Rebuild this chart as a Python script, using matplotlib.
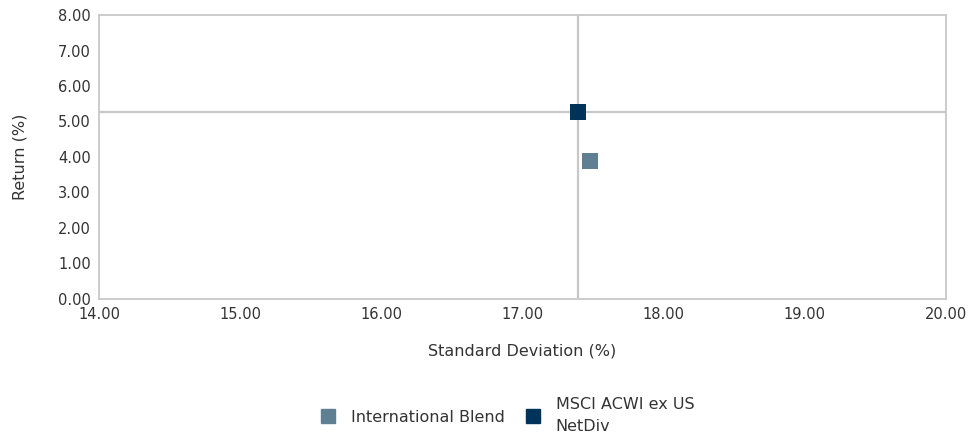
import matplotlib.pyplot as plt
from matplotlib.lines import Line2D

plt.rcParams['font.family'] = ['DejaVu Sans']

names = ['International Blend', 'MSCI ACWI ex US\nNetDiv']
std_dev = [17.48, 17.39]
returns = [3.89, 5.28]
colors = ['#5f7f92', '#00335a']

x_ticks = [14, 15, 16, 17, 18, 19, 20]
y_ticks = [0, 1, 2, 3, 4, 5, 6, 7, 8]

text_col = '#333333'
grid_col = '#c8c8c8'

fig = plt.figure(figsize=(9.72, 4.4), dpi=100)
ax = fig.add_axes([0.1019, 0.3205, 0.8714, 0.6454])

# benchmark crosshair
ax.axvline(std_dev[1], color=grid_col, lw=1.6, zorder=1)
ax.axhline(returns[1], color=grid_col, lw=1.6, zorder=1)

for x, y, c in zip(std_dev, returns, colors):
    ax.scatter([x], [y], marker='s', s=125, color=c, zorder=3, linewidths=0)

ax.set_xlim(14, 20)
ax.set_ylim(0, 8)
ax.set_xticks(x_ticks)
ax.set_yticks(y_ticks)
ax.set_xticklabels([f'{v:.2f}' for v in x_ticks])
ax.set_yticklabels([f'{v:.2f}' for v in y_ticks])
ax.tick_params(length=0, labelsize=10.5, colors=text_col, pad=6)
for s in ax.spines.values():
    s.set_color(grid_col)
    s.set_linewidth(1.3)

ax.set_xlabel('Standard Deviation (%)', fontsize=11.5, color=text_col, labelpad=15)
ax.set_ylabel('Return (%)', fontsize=11.5, color=text_col, labelpad=22)

handles = [Line2D([], [], marker='s', ls='', color=c, markersize=10) for c in colors]
leg = fig.legend(handles, names, loc='center', bbox_to_anchor=(0.518, 0.055), ncol=2,
                 frameon=False, fontsize=11.5, labelcolor=text_col,
                 handletextpad=0.4, columnspacing=0.8)
for t in leg.get_texts():
    t.set_linespacing(1.6)

fig.savefig('out.png', dpi=100)
